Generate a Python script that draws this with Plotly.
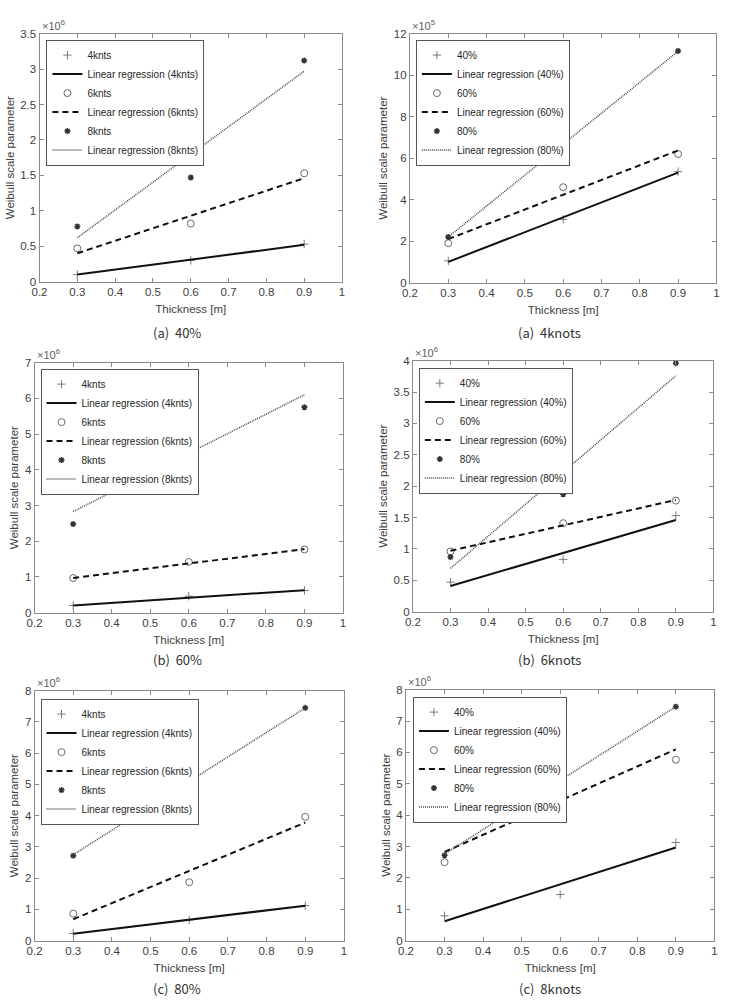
import plotly.graph_objects as go

# ---------------- data ----------------
thickness = [0.3, 0.6, 0.9]          # Thickness [m]
fit_x = [0.3, 0.9]                   # extent of regression lines

# (a) 40%  (x10^6)
p40_4knts = [0.10, 0.30, 0.53]
p40_4knts_fit = [0.10, 0.52]
p40_6knts = [0.47, 0.82, 1.53]
p40_6knts_fit = [0.40, 1.46]
p40_8knts = [0.78, 1.47, 3.12]
p40_8knts_fit = [0.62, 2.97]

# (a) 4knots  (x10^5)
k4_40 = [1.05, 3.05, 5.35]
k4_40_fit = [1.00, 5.30]
k4_60 = [1.90, 4.60, 6.20]
k4_60_fit = [2.10, 6.37]
k4_80 = [2.20, 6.65, 11.17]
k4_80_fit = [2.20, 11.15]

# (b) 60%  (x10^6)
p60_4knts = [0.20, 0.46, 0.62]
p60_4knts_fit = [0.20, 0.63]
p60_6knts = [0.97, 1.42, 1.77]
p60_6knts_fit = [0.97, 1.78]
p60_8knts = [2.48, 5.17, 5.75]
p60_8knts_fit = [2.83, 6.10]

# (b) 6knots  (x10^6)
k6_40 = [0.47, 0.83, 1.53]
k6_40_fit = [0.41, 1.46]
k6_60 = [0.96, 1.41, 1.77]
k6_60_fit = [0.97, 1.78]
k6_80 = [0.87, 1.87, 3.96]
k6_80_fit = [0.69, 3.76]

# (c) 80%  (x10^6)
p80_4knts = [0.23, 0.665, 1.12]
p80_4knts_fit = [0.22, 1.12]
p80_6knts = [0.865, 1.87, 3.96]
p80_6knts_fit = [0.686, 3.78]
p80_8knts = [2.72, 5.22, 7.45]
p80_8knts_fit = [2.75, 7.45]

# (c) 8knots  (x10^6)
k8_40 = [0.79, 1.47, 3.13]
k8_40_fit = [0.62, 2.97]
k8_60 = [2.50, 5.20, 5.77]
k8_60_fit = [2.83, 6.10]
k8_80 = [2.72, 5.22, 7.46]
k8_80_fit = [2.76, 7.46]

speed_labels = ["4knts", "6knts", "8knts"]
ratio_labels = ["40%", "60%", "80%"]

x_ticks = [0.2, 0.3, 0.4, 0.5, 0.6, 0.7, 0.8, 0.9, 1.0]

# ---------------- panel definitions ----------------
W, H = 744, 1000
panels = [
    dict(series=[(p40_4knts, p40_4knts_fit), (p40_6knts, p40_6knts_fit), (p40_8knts, p40_8knts_fit)],
         names=speed_labels, yr=[0, 3.5], dy=0.5, exp="6", cap="(a)\u00a0\u00a040%",
         box=(32, 339, 28, 279), leg=(39, 34), capxy=(172, 330)),
    dict(series=[(k4_40, k4_40_fit), (k4_60, k4_60_fit), (k4_80, k4_80_fit)],
         names=ratio_labels, yr=[0, 12], dy=2, exp="5", cap="(a)\u00a0\u00a04knots",
         box=(408, 719, 28, 280), leg=(414, 34), capxy=(550, 330)),
    dict(series=[(p60_4knts, p60_4knts_fit), (p60_6knts, p60_6knts_fit), (p60_8knts, p60_8knts_fit)],
         names=speed_labels, yr=[0, 7], dy=1, exp="6", cap="(b)\u00a0\u00a060%",
         box=(27, 340, 361, 614), leg=(33, 367), capxy=(172, 661)),
    dict(series=[(k6_40, k6_40_fit), (k6_60, k6_60_fit), (k6_80, k6_80_fit)],
         names=ratio_labels, yr=[0, 4], dy=0.5, exp="6", cap="(b)\u00a0\u00a06knots",
         box=(411, 716, 359, 613), leg=(417, 366), capxy=(550, 661)),
    dict(series=[(p80_4knts, p80_4knts_fit), (p80_6knts, p80_6knts_fit), (p80_8knts, p80_8knts_fit)],
         names=speed_labels, yr=[0, 8], dy=1, exp="6", cap="(c)\u00a0\u00a080%",
         box=(27, 341, 693, 946), leg=(33, 701), capxy=(172, 994)),
    dict(series=[(k8_40, k8_40_fit), (k8_60, k8_60_fit), (k8_80, k8_80_fit)],
         names=ratio_labels, yr=[0, 8], dy=1, exp="6", cap="(c)\u00a0\u00a08knots",
         box=(404, 717, 692, 946), leg=(411, 699), capxy=(550, 994)),
]

marker_styles = [
    dict(symbol="cross-thin-open", size=6, color="#7a7a7a", line=dict(width=1, color="#7a7a7a")),
    dict(symbol="circle-open", size=7, color="#6a6a6a", line=dict(width=1, color="#6a6a6a")),
    dict(symbol="asterisk-open", size=5, color="#333333", line=dict(width=1.5, color="#333333")),
]
line_styles = [
    dict(color="#111111", width=2, dash="solid"),
    dict(color="#111111", width=2, dash="6px,4px"),
    dict(color="#4a4a4a", width=1.5, dash="1px,1px"),
]

AX_COLOR = "#8a8a8a"
TXT_COLOR = "#404040"
FONT = "Liberation Sans, Arial, sans-serif"

fig = go.Figure()
layout = dict(width=W, height=H, margin=dict(l=0, r=0, t=0, b=0),
              paper_bgcolor="white", plot_bgcolor="white", showlegend=True,
              font=dict(family=FONT, color=TXT_COLOR))
annotations = []

for i, p in enumerate(panels):
    n = i + 1
    xa = "x" if n == 1 else f"x{n}"
    ya = "y" if n == 1 else f"y{n}"
    lg = "legend" if n == 1 else f"legend{n}"
    x0, x1, y0, y1 = p["box"]
    for j, ((pts, fit), nm) in enumerate(zip(p["series"], p["names"])):
        fig.add_trace(go.Scatter(x=thickness, y=pts, mode="markers", name=nm,
                                 marker=marker_styles[j], xaxis=xa, yaxis=ya, legend=lg))
        fig.add_trace(go.Scatter(x=fit_x, y=fit, mode="lines",
                                 name=f"Linear regression ({nm})",
                                 line=line_styles[j], xaxis=xa, yaxis=ya, legend=lg))
    axcommon = dict(showgrid=False, zeroline=False, showline=True, linecolor=AX_COLOR,
                    linewidth=1, mirror="ticks", ticks="inside", ticklen=4,
                    tickcolor=AX_COLOR, tickfont=dict(size=11.5, color=TXT_COLOR, family=FONT))
    layout["xaxis" if n == 1 else f"xaxis{n}"] = dict(
        axcommon, domain=[x0 / W, x1 / W], anchor=ya, range=[0.2, 1.0],
        tickvals=x_ticks, ticktext=[f"{v:g}" for v in x_ticks],
        title=dict(text="Thickness [m]", font=dict(size=11.5, color=TXT_COLOR), standoff=7))
    layout["yaxis" if n == 1 else f"yaxis{n}"] = dict(
        axcommon, domain=[1 - y1 / H, 1 - y0 / H], anchor=xa, range=p["yr"],
        dtick=p["dy"], tick0=0,
        title=dict(text="Weibull scale parameter", font=dict(size=11.5, color=TXT_COLOR), standoff=3))
    lx, ly = p["leg"]
    layout[lg] = dict(x=lx / W, y=1 - ly / H, xanchor="left", yanchor="top",
                      xref="paper", yref="paper",
                      bgcolor="white", bordercolor="#555555", borderwidth=1,
                      font=dict(size=10, color="#262626", family=FONT),
                      tracegroupgap=0, itemwidth=30, traceorder="normal")
    annotations.append(dict(x=x0 / W, y=1 - y0 / H, xref="paper", yref="paper",
                            xanchor="left", yanchor="bottom", showarrow=False,
                            text=f"\u00d710<sup>{p['exp']}</sup>",
                            font=dict(size=11, color="#606060", family=FONT)))
    cx, cy = p["capxy"]
    annotations.append(dict(x=cx / W, y=1 - cy / H, xref="paper", yref="paper",
                            xanchor="center", yanchor="middle", showarrow=False,
                            text=p["cap"],
                            font=dict(size=13, color="#333333", family="Noto Sans CJK KR, Noto Sans, sans-serif")))

layout["annotations"] = annotations
fig.update_layout(**layout)
fig.write_html("out.html")
